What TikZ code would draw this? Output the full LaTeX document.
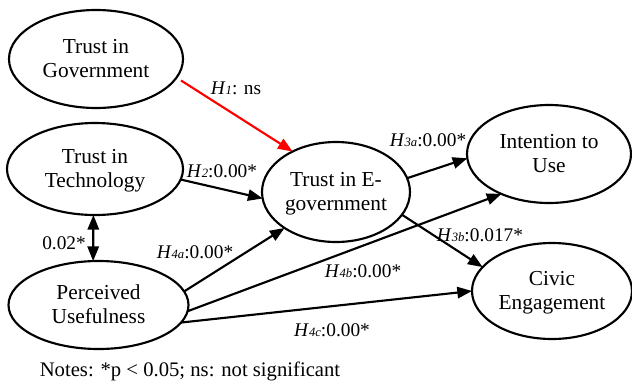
\documentclass[tikz,border=0pt]{standalone}
\usepackage{fontspec}
\setmainfont{Liberation Serif}
\usetikzlibrary{shapes.geometric,arrows.meta}
\newcommand\ctext[1]{\makebox[0pt]{\raisebox{-5.5pt}[0pt][0pt]{\begin{tabular}{@{}c@{}}#1\end{tabular}}}}
\newcommand\hyp[2]{\textit{H}{\fontsize{9.5}{10}\selectfont\textit{#1}}#2}
\tikzset{
  construct/.style={draw, line width=1.6pt, ellipse, inner sep=0pt, outer sep=0pt,
    font=\fontsize{16}{18}\selectfont},
  tip/.tip={Triangle[length=11pt,width=8.5pt]},
  path/.style={line width=1.6pt, -tip},
  lbl/.style={font=\fontsize{14.5}{16}\selectfont, inner sep=0pt},
}
\begin{document}
\begin{tikzpicture}[x=0.75pt,y=-0.75pt]
\useasboundingbox (0,0) rectangle (632,383);
\node[construct, minimum width=130.5pt, minimum height=73.5pt] (gov) at (96,59) {\ctext{Trust in\\Government}};
\node[construct, minimum width=132pt, minimum height=69pt] (tech) at (95,169) {\ctext{Trust in\\Technology}};
\node[construct, minimum width=135pt, minimum height=66pt] (pu) at (98.5,305) {\ctext{Perceived\\Usefulness}};
\node[construct, minimum width=111pt, minimum height=75pt] (egov) at (336,192) {\ctext{Trust in E-\\government}};
\node[construct, minimum width=123pt, minimum height=73.5pt] (iu) at (549,154) {\ctext{Intention to\\Use}};
\node[construct, minimum width=120pt, minimum height=72pt] (ce) at (552,291) {\ctext{Civic\\Engagement}};

\draw[path, red, shorten <=4pt] (gov.-13) -- (egov.137);
\draw[path] (tech.-7) -- (egov.185);
\draw[path, tip-tip] (tech.-92) -- (pu.97);
\draw[path] (pu.9) -- (egov.215.6);
\draw[path] (pu.-4.4) -- (iu.220);
\draw[path] (pu.-12.5) -- (ce.180);
\draw[path] (egov.11) -- (iu.183);
\draw[path] (egov.-19.2) -- (ce.161.6);

\node[lbl] (l1) at (236,88) {\hyp{1}{: ns}};
\node[lbl] (l2) at (222,171) {\hyp{2}{:0.00*}};
\node[lbl] (l0) at (64,243) {0.02*};
\node[lbl] (l4a) at (195,252) {\hyp{4a}{:0.00*}};
\node[lbl] (l4b) at (363,271) {\hyp{4b}{:0.00*}};
\node[lbl] (l4c) at (332,330) {\hyp{4c}{:0.00*}};
\node[lbl] (l3a) at (428,140) {\hyp{3a}{:0.00*}};
\node[lbl] (l3b) at (480,235) {\hyp{3b}{:0.017*}};
\node[font=\fontsize{15.5}{17}\selectfont, inner sep=0pt] (notes) at (190,371) {Notes: *p < 0.05; ns: not significant};
\end{tikzpicture}
\end{document}
